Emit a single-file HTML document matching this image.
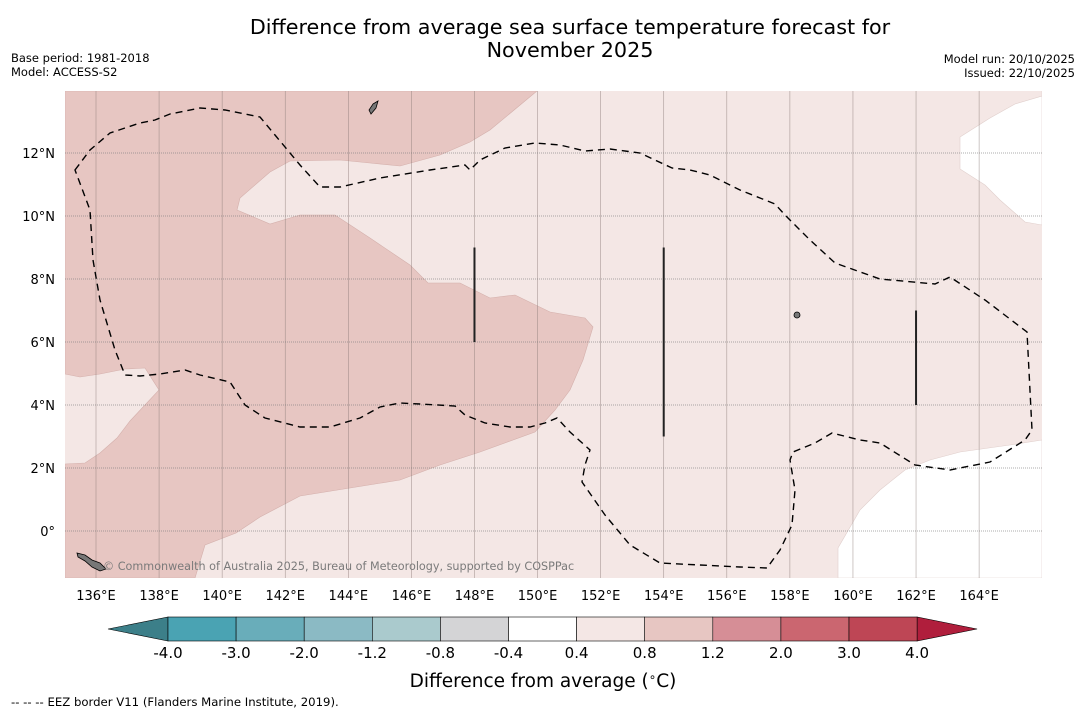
<!DOCTYPE html>
<html><head><meta charset="utf-8"><style>
body{margin:0;background:#fff;font-family:"DejaVu Sans","Liberation Sans",sans-serif;}
svg text{font-family:"DejaVu Sans","Liberation Sans",sans-serif;}
</style></head><body>
<svg id="chart" width="1085" height="713" viewBox="0 0 1085 713" xmlns="http://www.w3.org/2000/svg">
<text x="570" y="34" font-size="20.7" text-anchor="middle" fill="#000">Difference from average sea surface temperature forecast for</text>
<text x="570" y="57" font-size="20.7" text-anchor="middle" fill="#000">November 2025</text>
<text x="11" y="62" font-size="11.5">Base period: 1981-2018</text>
<text x="11" y="76" font-size="11.5">Model: ACCESS-S2</text>
<text x="1075" y="63" font-size="11.5" text-anchor="end">Model run: 20/10/2025</text>
<text x="1075" y="77" font-size="11.5" text-anchor="end">Issued: 22/10/2025</text>
<defs><clipPath id="mapclip"><rect x="65" y="91" width="977" height="487"/></clipPath></defs>
<g id="map" clip-path="url(#mapclip)">
<rect x="65" y="91" width="977" height="487" fill="#f4e7e5"/>
<path fill="#e7c6c2" stroke="#d4b0ac" stroke-width="0.6" d="M65,91 L537,91 L490,130 L470,142 L440,155 L400,166 L370,163 L340,160 L290,161 L270,172 L240,198 L237,210 L270,224 L300,215 L335,215 L370,238 L410,265 L428,283 L460,283 L490,298 L515,295 L550,312 L585,318 L593,327 L583,360 L570,390 L555,410 L535,432 L480,452 L440,465 L400,480 L350,488 L300,496 L260,517 L236,533 L205,545 L195,578 L65,578 L65,464 L85,463 L100,453 L117,438 L130,421 L159,390 L145,368 L125,369 L100,374 L80,377 L65,374 Z"/>
<path fill="#fff" stroke="#e0cfcc" stroke-width="0.6" d="M1042,91 L1042,96 L1015,104 L990,118 L960,137 L960,169 L985,185 L1000,200 L1025,222 L1042,225 Z"/>
<path fill="#fff" stroke="#e0cfcc" stroke-width="0.6" d="M1042,440 L1010,445 L960,452 L930,460 L905,470 L880,490 L860,510 L838,548 L838,578 L1042,578 Z"/>
<g id="grid"></g>
<path fill="none" stroke="#000" stroke-width="1.4" stroke-dasharray="7,5" d="M75,170 L90,150 L110,133 L140,123 L155,120 L170,114 L200,108 L225,110 L260,117 L275,135 L300,165 L320,187 L340,187 L380,178 L430,170 L465,165 L470,170 L480,160 L505,148 L535,143 L560,145 L585,151 L610,149 L640,153 L672,168 L690,170 L710,175 L740,190 L775,204 L785,215 L810,240 L835,263 L880,279 L935,284 L950,277 L985,300 L1027,332 L1032,430 L1025,440 L990,462 L950,470 L915,465 L880,443 L860,440 L832,433 L815,443 L793,452 L790,460 L795,490 L792,525 L780,550 L767,568 L740,567 L660,563 L630,545 L605,515 L582,482 L585,465 L590,450 L570,432 L557,418 L545,423 L530,427 L510,427 L485,423 L465,415 L455,406 L420,404 L400,403 L380,407 L360,418 L330,427 L300,427 L265,418 L245,405 L230,382 L200,375 L185,370 L160,374 L140,376 L125,375 L115,350 L100,300 L93,260 L90,210 Z"/>
<g id="marks"></g>
<path d="M373,104 L378,101 L376,108 L371,114 L369,110 Z" fill="#777" stroke="#000" stroke-width="0.8"/>
<ellipse cx="797" cy="315" rx="3" ry="3" fill="#777" stroke="#000" stroke-width="0.8"/>
<path d="M77,553 L85,555 L92,560 L100,563 L106,569 L100,571 L92,567 L85,561 L78,557 Z" fill="#777" stroke="#000" stroke-width="0.8"/>
<text x="103" y="570" font-size="11.2" fill="#7a7a7a">© Commonwealth of Australia 2025, Bureau of Meteorology, supported by COSPPac</text>
</g>
<g id="axes"></g>
<g id="cbar"></g>
<text x="543" y="687" font-size="18.5" text-anchor="middle">Difference from average (<tspan font-size="12" dy="-6">∘</tspan><tspan dy="6">C)</tspan></text>
<text x="11" y="706" font-size="11.7">--  --  -- EEZ border V11 (Flanders Marine Institute, 2019).</text>
</svg>
<script>
const lonTicks=[136,138,140,142,144,146,148,150,152,154,156,158,160,162,164];
const latTicks=[0,2,4,6,8,10,12];
const segLons=[148,154,162];
const segLatTop=[9,9,7];
const segLatBot=[6,3,4];
const cbBounds=["-4.0","-3.0","-2.0","-1.2","-0.8","-0.4","0.4","0.8","1.2","2.0","3.0","4.0"];
const cbColors=["#4aa3b3","#69adba","#8bbac4","#aacacd","#d4d4d6","#ffffff","#f4e7e5","#e7c6c2","#d68e96","#cb6670","#be4655"];
const NS="http://www.w3.org/2000/svg";
const X=lon=>96+(lon-136)*31.54;
const Y=lat=>531-lat*31.5;
function mk(t,a,p){const e=document.createElementNS(NS,t);for(const k in a)e.setAttribute(k,a[k]);p.appendChild(e);return e;}
const grid=document.getElementById('grid'),axes=document.getElementById('axes'),marks=document.getElementById('marks'),cb=document.getElementById('cbar');
lonTicks.forEach(l=>{
 const ln=mk('line',{x1:X(l),x2:X(l),y1:91,y2:578,stroke:'#8a7a78','stroke-width':0.6,'stroke-opacity':0.7},grid);
 
 
 const t=mk('text',{x:X(l),y:600,'font-size':13,'text-anchor':'middle'},axes);t.textContent=l+'°E';
 
 
});
latTicks.forEach(l=>{
 const ln=mk('line',{x1:65,x2:1042,y1:Y(l),y2:Y(l),stroke:'#777','stroke-width':0.8,'stroke-dasharray':'1,1','stroke-opacity':0.8},grid);
 
 
 const t=mk('text',{x:55,y:Y(l)+5,'font-size':13,'text-anchor':'end'},axes);t.textContent=l===0?'0°':l+'°N';
 
 
});
segLons.forEach((l,i)=>{
 const s=mk('line',{x1:X(l),x2:X(l),y1:Y(segLatTop[i]),y2:Y(segLatBot[i]),stroke:'#222','stroke-width':2},marks);
 
 
});
const cx0=168,cw=68.1,cy=617,ch=24,n=cbColors.length;
const lt=mk('polygon',{points:`${cx0},${cy} ${cx0},${cy+ch} 108,${cy+ch/2}`,fill:'#3c7f89',stroke:'#000','stroke-width':0.6},cb);


const re=cx0+cw*n;
const rt=mk('polygon',{points:`${re},${cy} ${re},${cy+ch} ${re+60},${cy+ch/2}`,fill:'#b01e3c',stroke:'#000','stroke-width':0.6},cb);


cbColors.forEach((c,i)=>{
 const r=mk('rect',{x:cx0+i*cw,y:cy,width:cw,height:ch,fill:c,stroke:'#000','stroke-width':0.6},cb);
 
 
});
cbBounds.forEach((b,i)=>{
 const t=mk('text',{x:cx0+i*cw,y:658,'font-size':15,'text-anchor':'middle'},cb);t.textContent=b;
 
 
});
</script>
</body></html>
